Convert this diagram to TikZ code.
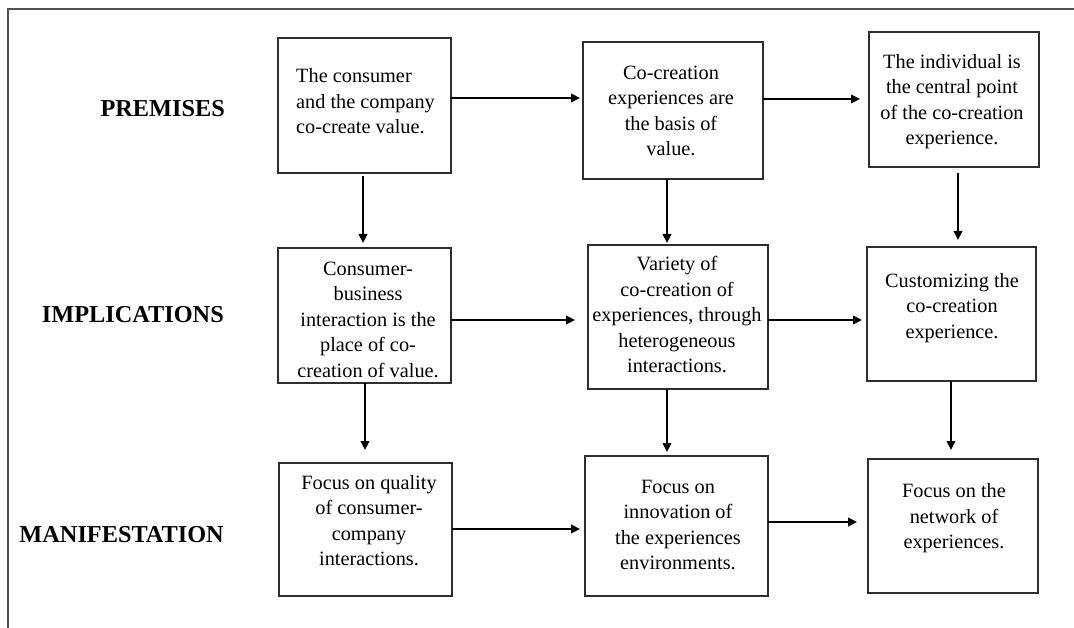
\documentclass[tikz,border=0pt]{standalone}
\usepackage{fontspec}
\setmainfont{Liberation Serif}
\usetikzlibrary{arrows.meta}
\definecolor{boxgray}{HTML}{2E2E2E}
\definecolor{framegray}{HTML}{505050}
\begin{document}
\begin{tikzpicture}[x=1pt,y=-1pt,
  box/.style={draw=boxgray, line width=1.4pt, inner sep=0pt, outer sep=0pt, rectangle},
  txt/.style={inner sep=0pt, align=center, font=\fontsize{20.3}{25.5}\selectfont},
  lbl/.style={inner sep=0pt, anchor=base east, font=\fontsize{24.3}{28}\selectfont\bfseries},
  arr/.style={line width=2.7pt, -{Triangle[length=9pt,width=8.5pt]}}]
\useasboundingbox (0,0) rectangle (1074,628);
% frame
\draw[framegray, line width=1.3pt] (8,628) -- (8,9) -- (1074,9);
% row labels
\node[lbl] (lp) at (225,117) {PREMISES};
\node[lbl] (li) at (224,323) {IMPLICATIONS};
\node[lbl] (lm) at (224,542) {MANIFESTATION};
% boxes
\node[box, minimum width=173pt, minimum height=135pt] (A) at (364.5,105.5) {};
\node[box, minimum width=180pt, minimum height=137pt] (B) at (673,110.5) {};
\node[box, minimum width=170pt, minimum height=135pt] (C) at (954,99.5) {};
\node[box, minimum width=173pt, minimum height=135pt] (D) at (364.5,315.5) {};
\node[box, minimum width=180pt, minimum height=144pt] (E) at (678,317) {};
\node[box, minimum width=169pt, minimum height=134pt] (F) at (951.5,314) {};
\node[box, minimum width=173pt, minimum height=133pt] (G) at (365.5,529.5) {};
\node[box, minimum width=183pt, minimum height=140pt] (H) at (676.5,526) {};
\node[box, minimum width=170pt, minimum height=134pt] (I) at (953,526) {};
% texts
\node[txt, align=left, anchor=west] (tA) at (296,101.5) {The consumer\\and the company\\co-create value.};
\node[txt] (tB) at (671,111) {Co-creation\\experiences are\\the basis of\\value.};
\node[txt] (tC) at (952,101.5) {The individual is\\the central point\\of the co-creation\\experience.};
\node[txt] (tD) at (368,319.5) {Consumer-\\business\\interaction is the\\place of co-\\creation of value.};
\node[txt] (tE) at (677,314.5) {Variety of\\co-creation of\\experiences, through\\heterogeneous\\interactions.};
\node[txt] (tF) at (952,308) {Customizing the\\co-creation\\experience.};
\node[txt] (tG) at (369,520.5) {Focus on quality\\of consumer-\\company\\interactions.};
\node[txt] (tH) at (678,525) {Focus on\\innovation of\\the experiences\\environments.};
\node[txt] (tI) at (954,518.5) {Focus on the\\network of\\experiences.};
% horizontal arrows
\draw[arr, shorten >=3pt] (A.east |- 0,98) -- (B.west |- 0,98);
\draw[arr, shorten >=9pt] (B.east |- 0,99) -- (C.west |- 0,99);
\draw[arr, shorten >=13pt] (D.east |- 0,320) -- (E.west |- 0,320);
\draw[arr, shorten >=5pt] (E.east |- 0,320) -- (F.west |- 0,320);
\draw[arr, shorten >=5pt] (G.east |- 0,529) -- (H.west |- 0,529);
\draw[arr, shorten >=11pt] (H.east |- 0,522) -- (I.west |- 0,522);
% vertical arrows
\draw[arr, shorten <=3pt, shorten >=5pt] (A.south -| 363,0) -- (D.north -| 363,0);
\draw[arr, shorten >=2pt] (B.south -| 667,0) -- (E.north -| 667,0);
\draw[arr, shorten <=6pt, shorten >=7pt] (C.south -| 958,0) -- (F.north -| 958,0);
\draw[arr, shorten >=13pt] (D.south -| 365,0) -- (G.north -| 365,0);
\draw[arr, shorten >=4pt] (E.south -| 667,0) -- (H.north -| 667,0);
\draw[arr, shorten >=9pt] (F.south -| 951,0) -- (I.north -| 951,0);
\end{tikzpicture}
\end{document}
